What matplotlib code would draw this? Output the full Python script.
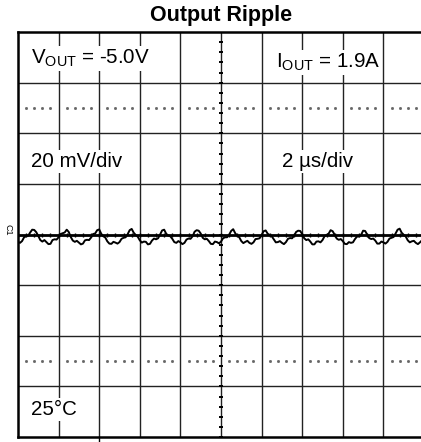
import numpy as np
import matplotlib.pyplot as plt

plt.rcParams['font.family'] = ['Liberation Sans', 'DejaVu Sans']
plt.rcParams['mathtext.fontset'] = 'custom'
plt.rcParams['mathtext.rm'] = 'Liberation Sans'
plt.rcParams['mathtext.it'] = 'Liberation Sans'

# scope trace: time in us (0.1 us steps), ripple in mV
time_us = [round(-10.0 + 0.1 * i, 1) for i in range(201)]
ripple_mv = [
    -2.9, -3.3, -2.6, -1.1, -0.7, -0.5, 0.8, 1.9, 1.8, 0.9,
    -0.6, -2.2, -2.8, -2.2, -3.0, -3.8, -3.7, -2.2, -1.9, -2.0,
    -1.1, 0.2, 0.5, 0.8, 1.9, 1.0, -1.0, -2.4, -2.9, -2.5,
    -3.2, -3.9, -3.6, -2.3, -2.1, -2.2, -1.2, 0.2, 0.4, 1.7,
    2.0, 0.3, -0.7, -1.2, -2.7, -3.6, -3.7, -2.9, -3.2, -3.6,
    -3.0, -1.7, -1.3, -1.1, 0.1, 1.7, 2.2, 0.7, -0.2, -0.9,
    -2.3, -3.2, -2.8, -2.9, -3.9, -3.7, -2.4, -1.6, -1.9, -1.5,
    0.0, 1.6, 1.9, 0.3, -0.4, -0.7, -1.7, -3.0, -3.3, -2.6,
    -3.1, -3.8, -3.3, -2.0, -1.6, -1.7, -0.7, 1.1, 1.7, 1.5,
    0.4, -1.3, -1.9, -1.7, -2.6, -3.7, -3.8, -2.8, -3.0, -3.5,
    -2.8, -1.5, -1.1, -1.1, -0.1, 1.4, 2.1, 0.5, -0.5, -1.1,
    -2.6, -3.4, -2.9, -2.5, -3.3, -3.7, -3.1, -1.8, -1.7, -1.5,
    -0.2, 1.3, 1.6, 0.3, -0.2, -0.7, -1.9, -3.1, -3.0, -2.6,
    -3.3, -3.8, -3.0, -1.7, -1.4, -1.5, -0.5, 1.0, 1.5, 1.4,
    0.2, -1.5, -2.2, -1.9, -2.8, -3.9, -3.9, -2.8, -2.7, -3.1,
    -2.2, -0.7, -0.2, 0.3, 1.7, 1.3, -0.1, -1.6, -2.1, -1.8,
    -2.6, -3.7, -3.8, -3.0, -3.3, -3.1, -1.8, -0.8, -0.8, -0.2,
    1.5, 1.4, 0.0, -1.4, -1.8, -1.6, -2.4, -3.6, -3.6, -2.8,
    -3.1, -3.6, -2.9, -1.6, -1.3, -1.0, 0.4, 1.9, 2.3, 0.7,
    -0.1, -0.8, -2.3, -3.1, -2.7, -2.5, -3.3, -3.8, -3.1, -2.3,
    -2.4,
]

x_major = [-8, -6, -4, -2, 2, 4, 6, 8]
y_major = [-60, -40, -20, 20, 40, 60]
dot_rows = [50, -50]

fig = plt.figure(figsize=(4.21, 4.42), dpi=100)
ax = fig.add_axes([18 / 421, 5 / 442, 406 / 421, 405 / 442])
ax.set_xlim(-10, 10)
ax.set_ylim(-80, 80)
ax.set_xticks([])
ax.set_yticks([])
for s in ax.spines.values():
    s.set_linewidth(1.8)
    s.set_color('black')

for x in x_major:
    ax.axvline(x, color='#222222', lw=1.0, zorder=1)
for y in y_major:
    ax.axhline(y, color='#222222', lw=1.0, zorder=1)

# center axes with minor ticks
ax.axvline(0, color='#222222', lw=1.0, zorder=1)
ax.axhline(0, color='black', lw=2.0, zorder=1)
minor_y = np.arange(-80, 80.1, 4)
ax.plot(np.zeros_like(minor_y), minor_y, ls='none', marker='_', ms=3, mew=1.4, color='black', zorder=2)
minor_x = np.arange(-10, 10.1, 0.4)
ax.plot(minor_x, np.zeros_like(minor_x), ls='none', marker='|', ms=3, mew=1.0, color='black', zorder=2)
ax.plot([-6, -6], [-80, -81.6], color='black', lw=1.0, clip_on=False)

# dotted rows
dot_x = [v for v in minor_x if abs(v / 2 - round(v / 2)) > 0.01]
for y in dot_rows:
    ax.plot(dot_x, [y] * len(dot_x), ls='none', marker='s', ms=1.0, color='#666666', zorder=2)

ax.plot(time_us, ripple_mv, color='black', lw=1.4, zorder=4)

box = dict(facecolor='white', edgecolor='none', pad=1.5)
ax.text(-9.35, 69.5, r'V$_{\mathrm{OUT}}$ = -5.0V', fontsize=14.8, va='center', ha='left', bbox=box, zorder=3)
ax.text(2.7, 68, r'I$_{\mathrm{OUT}}$ = 1.9A', fontsize=14.8, va='center', ha='left', bbox=box, zorder=3)
ax.text(-9.35, 29, '20 mV/div', fontsize=14.8, va='center', ha='left', bbox=box, zorder=3)
ax.text(3.0, 29, '2 \u00b5s/div', fontsize=14.8, va='center', ha='left', bbox=box, zorder=3)
ax.text(-9.35, -69, '25\u00b0C', fontsize=14.8, va='center', ha='left', bbox=box, zorder=3)

fig.text(221 / 421, 1 - 15 / 442, 'Output Ripple', fontsize=15.5, fontweight='bold', ha='center', va='center')
fig.text(8 / 421, 1 - 230 / 442, 'C1', fontsize=6.5, rotation=270, ha='center', va='center')

fig.savefig('out.png', dpi=100)
